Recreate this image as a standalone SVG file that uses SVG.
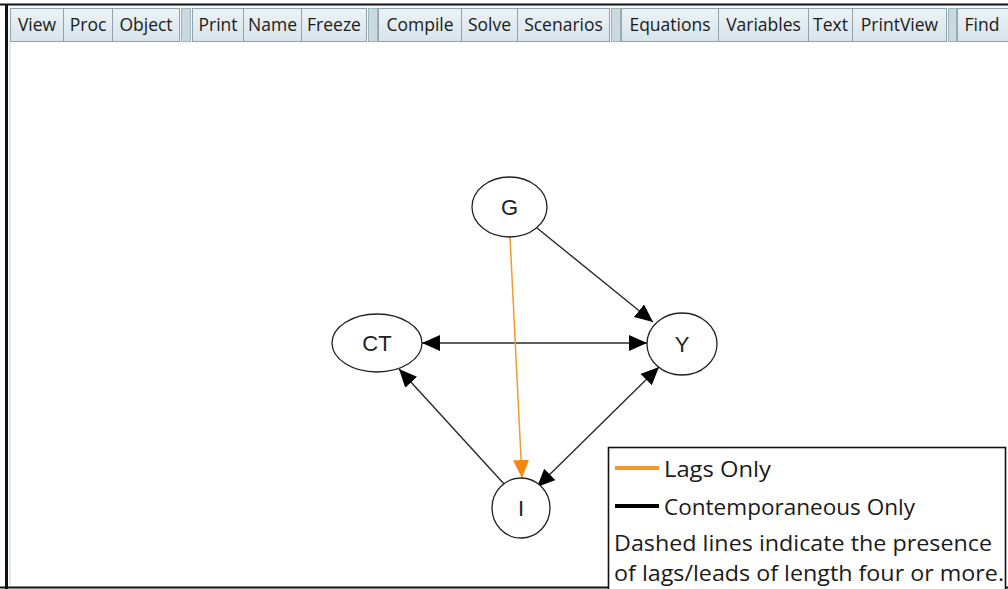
<svg xmlns="http://www.w3.org/2000/svg" width="1008" height="589" viewBox="0 0 1008 589">
<style>
.btn{fill:url(#bg);stroke:#8ea3ab;stroke-width:1}
.sep{fill:#c9d9e0;stroke:#9fb3ba;stroke-width:1}
.bt{font-family:"Open Sans","Noto Sans",sans-serif;font-size:17.5px;fill:#1a1a1a;text-anchor:middle}
.node{fill:#fff;stroke:#222;stroke-width:1.3}
.nl{font-family:"Liberation Sans",Arial,sans-serif;font-size:22px;fill:#222;text-anchor:middle}
.edge{stroke:#2a2a2a;stroke-width:1.4;fill:none}
.lag{stroke:#f39a2c;stroke-width:1.5;fill:none}
.lt{font-family:"Open Sans","Noto Sans",sans-serif;font-size:21px;fill:#1a1a1a}
</style>
<defs>
<linearGradient id="bg" x1="0" y1="0" x2="0" y2="1">
<stop offset="0" stop-color="#edf3f6"/>
<stop offset="1" stop-color="#d6e4ea"/>
</linearGradient>
<marker id="ah" markerUnits="userSpaceOnUse" markerWidth="19" markerHeight="17" refX="18" refY="8" orient="auto-start-reverse">
<path d="M0,0 L18,8 L0,16 z" fill="#000"/>
</marker>
<marker id="aho" markerUnits="userSpaceOnUse" markerWidth="19" markerHeight="17" refX="18" refY="8" orient="auto">
<path d="M0,0 L18,8 L0,16 z" fill="#f7860f"/>
</marker>
</defs>
<rect x="0" y="0" width="1008" height="589" fill="#fff"/>
<g id="frame">
<line x1="0" y1="4.5" x2="1008" y2="4.5" stroke="#111" stroke-width="2"/>
<line x1="6.5" y1="4" x2="6.5" y2="589" stroke="#111" stroke-width="3"/>
<line x1="0" y1="587.5" x2="1008" y2="587.5" stroke="#111" stroke-width="2"/>
<line x1="10" y1="42" x2="10" y2="586" stroke="#dfe9ee" stroke-width="2"/>
</g>
<g id="toolbar">
<rect x="8" y="6" width="1000" height="36" fill="#f4f8fa"/>
<rect class="btn" x="10.5" y="8.5" width="53" height="33"/><text class="bt" x="37" y="31">View</text>
<rect class="btn" x="63.5" y="8.5" width="49" height="33"/><text class="bt" x="88" y="31">Proc</text>
<rect class="btn" x="112.5" y="8.5" width="67" height="33"/><text class="bt" x="146" y="31">Object</text>
<rect class="sep" x="181.5" y="8.5" width="9" height="33"/>
<rect class="btn" x="192.5" y="8.5" width="51" height="33"/><text class="bt" x="218" y="31">Print</text>
<rect class="btn" x="243.5" y="8.5" width="58" height="33"/><text class="bt" x="272.5" y="31">Name</text>
<rect class="btn" x="301.5" y="8.5" width="65" height="33"/><text class="bt" x="334" y="31">Freeze</text>
<rect class="sep" x="368.5" y="8.5" width="9" height="33"/>
<rect class="btn" x="378.5" y="8.5" width="83" height="33"/><text class="bt" x="420" y="31">Compile</text>
<rect class="btn" x="461.5" y="8.5" width="56" height="33"/><text class="bt" x="489.5" y="31">Solve</text>
<rect class="btn" x="517.5" y="8.5" width="92" height="33"/><text class="bt" x="563.5" y="31">Scenarios</text>
<rect class="sep" x="611.5" y="8.5" width="9" height="33"/>
<rect class="btn" x="621.5" y="8.5" width="97" height="33"/><text class="bt" x="670" y="31">Equations</text>
<rect class="btn" x="718.5" y="8.5" width="90" height="33"/><text class="bt" x="763.5" y="31">Variables</text>
<rect class="btn" x="808.5" y="8.5" width="44" height="33"/><text class="bt" x="830.5" y="31">Text</text>
<rect class="btn" x="852.5" y="8.5" width="94" height="33"/><text class="bt" x="899.5" y="31">PrintView</text>
<rect class="sep" x="948.5" y="8.5" width="8" height="33"/>
<rect class="btn" x="957.5" y="8.5" width="52" height="33"/><text class="bt" x="982" y="31">Find</text>
</g>
<g id="edges">
<line class="edge" x1="537" y1="228" x2="653" y2="322" marker-end="url(#ah)"/>
<line class="edge" x1="422" y1="343" x2="647" y2="343" marker-start="url(#ah)" marker-end="url(#ah)"/>
<line class="edge" x1="505" y1="485" x2="399" y2="369" marker-end="url(#ah)"/>
<line class="edge" x1="537" y1="487" x2="659" y2="367" marker-start="url(#ah)" marker-end="url(#ah)"/>
<line class="lag" x1="510" y1="237" x2="522" y2="478" marker-end="url(#aho)"/>
</g>
<g id="node-G"><ellipse class="node" cx="509.5" cy="207" rx="37.5" ry="30"/><text class="nl" x="509.5" y="215">G</text></g>
<g id="node-CT"><ellipse class="node" cx="377" cy="343" rx="45" ry="29"/><text class="nl" x="377" y="351">CT</text></g>
<g id="node-Y"><ellipse class="node" cx="682" cy="344" rx="35" ry="31"/><text class="nl" x="682" y="352">Y</text></g>
<g id="node-I"><ellipse class="node" cx="521" cy="508" rx="29" ry="30"/><text class="nl" x="521" y="516">I</text></g>
<g id="legend">
<rect x="608.5" y="447.5" width="397" height="145" fill="#fff" stroke="#111" stroke-width="1.6"/>
<line x1="615" y1="468" x2="659" y2="468" stroke="#f39a2c" stroke-width="4"/>
<text class="lt" x="664" y="477" textLength="107" lengthAdjust="spacingAndGlyphs">Lags Only</text>
<line x1="615" y1="506" x2="659" y2="506" stroke="#000" stroke-width="4"/>
<text class="lt" x="664" y="515" textLength="251" lengthAdjust="spacingAndGlyphs">Contemporaneous Only</text>
<text class="lt" x="614" y="551" textLength="378" lengthAdjust="spacingAndGlyphs">Dashed lines indicate the presence</text>
<text class="lt" x="614" y="581" textLength="390" lengthAdjust="spacingAndGlyphs">of lags/leads of length four or more.</text>
</g>
</svg>
